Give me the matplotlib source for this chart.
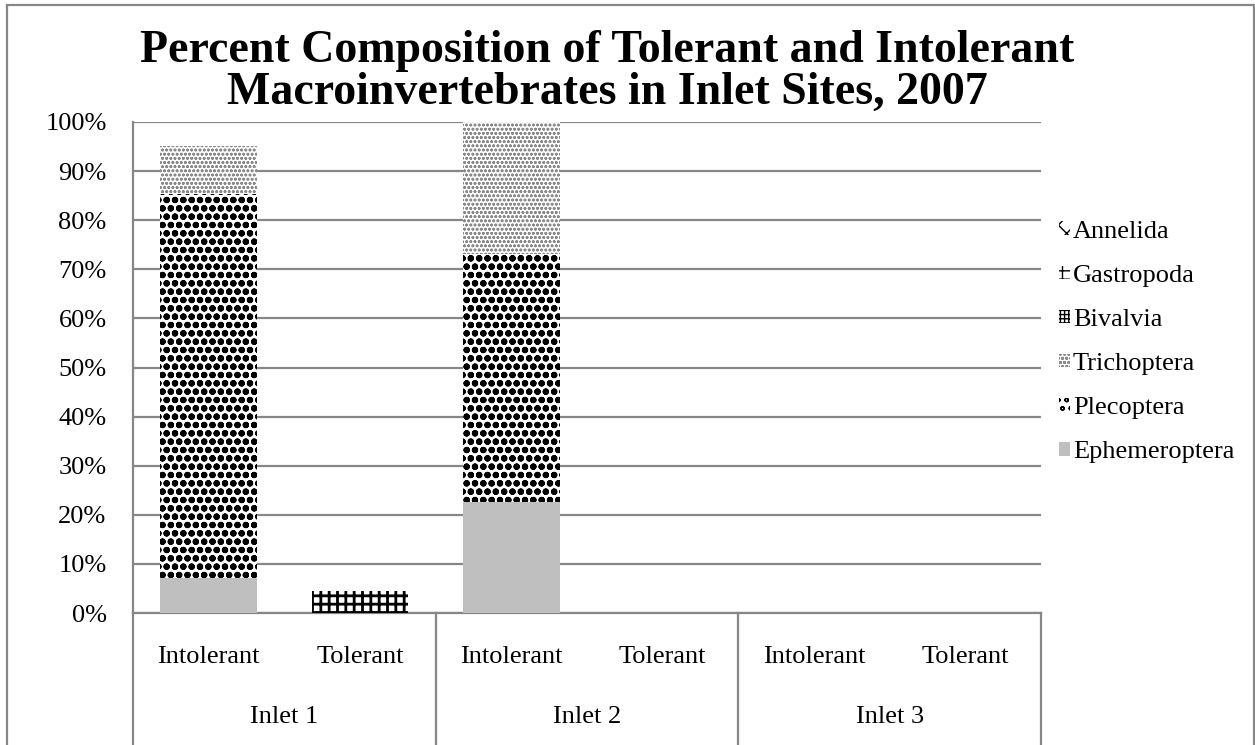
import numpy as np
import matplotlib
matplotlib.use("Agg")
import matplotlib.pyplot as plt
from matplotlib.patches import Rectangle, Patch

plt.rcParams['font.family'] = ['Liberation Serif', 'DejaVu Serif']

# data (percent of each inlet sample)
groups = ['Inlet 1', 'Inlet 2', 'Inlet 3']
subcats = ['Intolerant', 'Tolerant']
taxa = ['Ephemeroptera', 'Plecoptera', 'Trichoptera', 'Bivalvia', 'Gastropoda', 'Annelida']
ephemeroptera = [7.1, 0, 22.7, 0, 0, 0]
plecoptera = [78.3, 0, 50.5, 0, 0, 0]
trichoptera = [9.8, 0, 26.8, 0, 0, 0]
bivalvia = [0, 0, 0, 0, 0, 0]
gastropoda = [0, 4.5, 0, 0, 0, 0]
annelida = [0, 0, 0, 0, 0, 0]
yticks = [0, 10, 20, 30, 40, 50, 60, 70, 80, 90, 100]

series = [ephemeroptera, plecoptera, trichoptera, bivalvia, gastropoda, annelida]
# (facecolor, hatch, hatch colour, hatch linewidth)
styles = [
    ('#BFBFBF', None, '#BFBFBF', 1.0),
    ('white', 'oo', 'black', 2.2),
    ('white', 'oooo', '#8a8a8a', 0.8),
    ('white', '++++', 'black', 1.5),
    ('white', '++', 'black', 2.0),
    ('white', 'xx', 'black', 2.0),
]

W, H = 1255, 745
fig = plt.figure(figsize=(W / 100, H / 100), dpi=100)
ax = fig.add_axes([133 / W, 1 - 613 / H, (1041 - 133) / W, (613 - 122) / H])

x = np.arange(len(groups) * len(subcats)) + 0.5
bottom = np.zeros(len(x))
handles = []
for name, vals, (fc, hatch, hc, hlw) in zip(taxa, series, styles):
    vals = np.array(vals, dtype=float)
    bars = ax.bar(x, vals, 0.64, bottom=bottom, color=fc, edgecolor=hc,
                  linewidth=0, hatch=hatch, zorder=3)
    for b in bars:
        if hasattr(b, 'set_hatch_linewidth'):
            b.set_hatch_linewidth(hlw)
    bottom += vals
    h = Patch(facecolor=fc, edgecolor=hc, linewidth=0, hatch=hatch)
    if hasattr(h, 'set_hatch_linewidth'):
        h.set_hatch_linewidth(hlw)
    handles.append(h)

ax.set_xlim(0, 6)
ax.set_ylim(0, 100)
ax.set_yticks(yticks)
ax.set_yticklabels([f'{v}%' for v in yticks], fontsize=19)
ax.tick_params(axis='y', length=0, pad=19)
ax.set_xticks([])
ax.grid(axis='y', color='#878787', lw=1.6, zorder=0)
for s in ['top', 'right', 'bottom']:
    ax.spines[s].set_visible(False)
ax.spines['left'].set_color('#878787')
ax.spines['left'].set_linewidth(1.6)

# category axis below the plot
tr = ax.get_xaxis_transform()
ax.plot([0, 6], [0, 0], color='#878787', lw=1.6, transform=tr, clip_on=False)
for xs in [0, 2, 4, 6]:
    ax.plot([xs, xs], [0, -0.28], color='#878787', lw=1.6, transform=tr, clip_on=False)
for i, xi in enumerate(x):
    ax.text(xi, -0.09, subcats[i % 2], transform=tr, ha='center', va='center', fontsize=19)
for g, name in enumerate(groups):
    ax.text(2 * g + 1, -0.212, name, transform=tr, ha='center', va='center', fontsize=19)

fig.text(0.4837, 1 - 72 / H, 'Percent Composition of Tolerant and Intolerant\nMacroinvertebrates in Inlet Sites, 2007',
         ha='center', va='center', fontsize=33, fontweight='bold', linespacing=1.0)

leg = fig.legend(handles[::-1], taxa[::-1], loc='center left',
                 bbox_to_anchor=(1059 / W, 1 - 342 / H), frameon=False, fontsize=19,
                 handlelength=0.4, handleheight=0.4, handletextpad=0.12, labelspacing=0.84,
                 borderaxespad=0, borderpad=0)

# chart border
fig.add_artist(Rectangle((7 / W, -0.1), (1254 - 7) / W, 1.1 - 5 / H, transform=fig.transFigure,
                         fill=False, edgecolor='#878787', lw=1.6))

fig.savefig('out.png', dpi=100)
